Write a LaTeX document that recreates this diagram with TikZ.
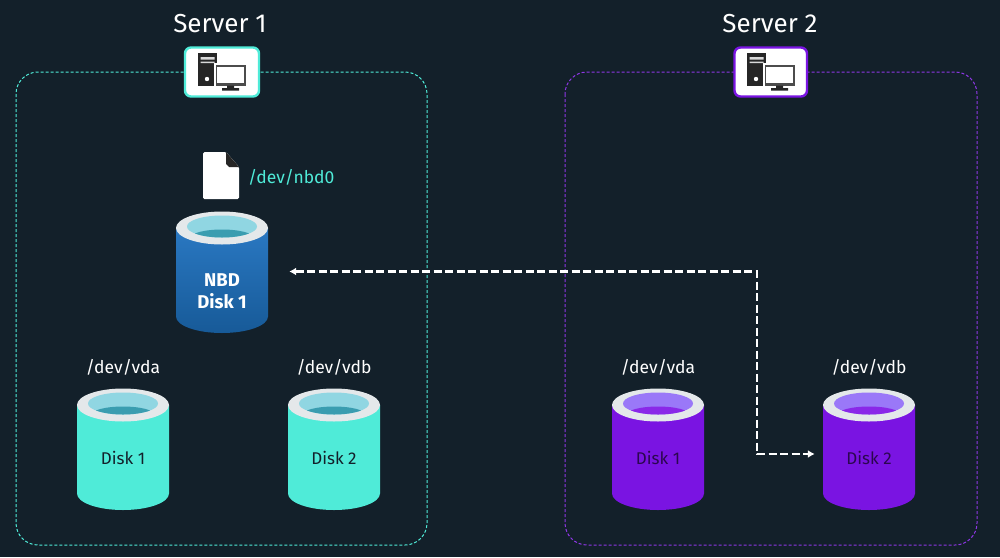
\documentclass[tikz,border=0pt]{standalone}
\usepackage{fontspec}
\setmainfont{Fira Sans}
\usetikzlibrary{arrows.meta}
\definecolor{bgdark}{HTML}{13202A}
\definecolor{tealc}{HTML}{4FEBD8}
\definecolor{purplec}{HTML}{7A14E2}
\definecolor{rimc}{HTML}{E4E8EA}
\definecolor{nbdtop}{HTML}{2A78C2}
\definecolor{nbdbottom}{HTML}{175A98}
\definecolor{tealinner}{HTML}{90D6E2}
\definecolor{tealdark}{HTML}{3A9DB0}
\definecolor{purpleinner}{HTML}{9A78F8}
\definecolor{purpledark}{HTML}{8A28E8}
\tikzset{
  titletext/.style={text=white,font=\fontsize{26}{26}\selectfont,inner sep=0pt},
  pathtext/.style={text=white,font=\fontsize{17.5}{18}\selectfont,inner sep=0pt},
  serverbox/.style={draw=#1,dash pattern=on 3pt off 2pt,line width=1pt,rounded corners=22pt},
  iconbox/.style={draw=#1,fill=white,line width=2.4pt,rounded corners=6pt},
  disklabel/.style={minimum width=92pt,inner sep=0pt,align=center,font=\fontsize{17}{22}\selectfont},
  flowline/.style={draw=white,line width=2.6pt,dash pattern=on 8pt off 3.5pt}
}
% x y of the rim centre, then body top, body bottom, inner, crescent colours
\newcommand{\drawdisk}[6]{
  \begin{scope}[shift={(#1,#2)}]
    \shade[top color=#3,bottom color=#4] (-46,0) -- (-46,88.5) .. controls (-46,97.6) and (-25.4,105) .. (0,105) .. controls (25.4,105) and (46,97.6) .. (46,88.5) -- (46,0) -- cycle;
    \fill[rimc] (0,0) ellipse [x radius=46pt,y radius=16.5pt];
    \fill[#5] (0,-1.5) ellipse [x radius=35pt,y radius=11pt];
    \begin{scope}
      \clip (0,-1.5) ellipse [x radius=35pt,y radius=11pt];
      \fill[#6] (0,10) ellipse [x radius=32pt,y radius=8.5pt];
    \end{scope}
  \end{scope}
}
\newcommand{\drawserver}[1]{
  \begin{scope}[shift={(#1,0)}]
    \fill[black!85] (198,53) rectangle (217,86);
    \fill[white!85!black] (200.5,57) rectangle (214.5,59.5) (200.5,61.5) rectangle (214.5,63);
    \fill[white] (207,79) circle (2.2pt);
    \fill[white] (214,63) rectangle (247,88);
    \fill[black!70] (215.5,64.5) rectangle (245.5,85.5);
    \fill[white] (217,66.5) rectangle (244,83);
    \fill[black!85] (227,85.5) rectangle (234,88) (222,88) rectangle (239,90.5);
  \end{scope}
}
\begin{document}
\begin{tikzpicture}[x=1pt,y=-1pt]
\useasboundingbox (0,0) rectangle (1000,557);
\fill[bgdark] (0,0) rectangle (1000,557);

\draw[serverbox=tealc] (16,72) rectangle (427,545);
\draw[serverbox=purplec!85!white] (565,72) rectangle (977,545);

\draw[iconbox=tealc] (185,47.5) rectangle (259,96.5);
\draw[iconbox=purplec] (734.5,47.5) rectangle (807,96.5);
\drawserver{0}
\drawserver{549}

\path (220,24) node[titletext](server1){Server 1} (770,24) node[titletext](server2){Server 2};

% file icon
\fill[white,rounded corners=1.5pt] (203,152) -- (226,152) -- (239,167) -- (239,199) -- (203,199) -- cycle;
\fill[black!85] (226,152) -- (226,164) -- (229,167) -- (239,167) -- cycle;
\path (248,177) node[anchor=west,pathtext,text=tealc](nbdpath){/dev/nbd0};

\drawdisk{222}{228}{nbdtop}{nbdbottom}{tealinner}{tealdark}
\drawdisk{123}{405}{tealc}{tealc}{tealinner}{tealdark}
\drawdisk{334}{405}{tealc}{tealc}{tealinner}{tealdark}
\drawdisk{658}{405}{purplec}{purplec}{purpleinner}{purpledark}
\drawdisk{869}{405}{purplec}{purplec}{purpleinner}{purpledark}

\path (123,367) node[pathtext](vda1){/dev/vda} (334,367) node[pathtext](vdb1){/dev/vdb} (658,367) node[pathtext](vda2){/dev/vda} (869,367) node[pathtext](vdb2){/dev/vdb};

\path (222,291) node[disklabel,text=white,font=\fontsize{18.5}{22}\selectfont\bfseries](nbd){NBD\\Disk 1};
\path (123,458) node[disklabel,text=bgdark](disk11){Disk 1} (334,458) node[disklabel,text=bgdark](disk12){Disk 2};
\path (658,458) node[disklabel,text=purplec!35!black](disk21){Disk 1} (869,458) node[disklabel,text=purplec!35!black](disk22){Disk 2};

% the link between the two servers
\coordinate (bend) at (757,271.5);
\draw[flowline,{Latex[length=7pt,width=8pt]}-{Latex[length=7pt,width=8pt]},shorten <=21pt,shorten >=8pt] (nbd.east |- bend) -- (bend) |- ([yshift=4pt]disk22.west);
\end{tikzpicture}
\end{document}
